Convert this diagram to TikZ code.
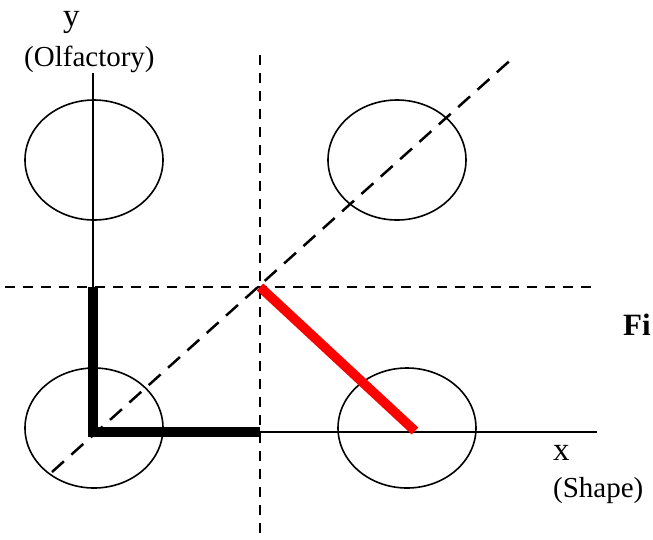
\documentclass[tikz,border=0pt]{standalone}
\usepackage{fontspec}
\setmainfont{Liberation Serif}
\usetikzlibrary{shapes.geometric, positioning}

\begin{document}
\begin{tikzpicture}[
    x=1pt, y=-1pt,
    blob/.style={draw, ellipse, line width=1.6pt, minimum width=138pt, minimum height=120pt, inner sep=0pt},
    axis/.style={line width=1.6pt},
    guide/.style={line width=2.5pt, dash pattern=on 10pt off 8pt},
    diag/.style={line width=2.5pt, dash pattern=on 16pt off 10pt},
    bar/.style={line width=9.5pt, line join=miter},
    lbl/.style={font=\fontsize{29}{31}\selectfont, anchor=base west, inner sep=0pt},
    var/.style={font=\fontsize{33}{35}\selectfont, anchor=base west, inner sep=0pt},
  ]
  \useasboundingbox (0,0) rectangle (653,539);
  % clusters
  \node[blob] (tl) at (94,160) {};
  \node[blob] (tr) at (397,160) {};
  \node[blob] (bl) at (94,428) {};
  \node[blob] (br) at (407,428) {};
  % axes and guides
  \coordinate (o) at (93,432);
  \coordinate (ytop) at (93,73);
  \coordinate (xend) at (597,432);
  \coordinate (c) at (260,287);
  \coordinate (vtop) at (260,55);
  \coordinate (vbot) at (260,537);
  \coordinate (hl) at (5,287);
  \coordinate (hr) at (597,287);
  \coordinate (dlo) at (52,472);
  \coordinate (dhi) at (515,56);
  \coordinate (ycut) at (93,287);
  \coordinate (xcut) at (260,432);
  \coordinate (rend) at (415,431);
  \draw[axis] (ytop) -- (o) -- (xend);
  \draw[guide] (vtop) -- (vbot);
  \draw[guide] (hl) -- (hr);
  \draw[diag] (dlo) -- (dhi);
  \draw[bar] (ycut) -- (o) -- (xcut);
  \draw[bar, red] (c) -- (rend);
  % labels
  \node[var] (ylab) at (63,26) {y};
  \node[lbl] (ytxt) at (24,66) {(Olfactory)};
  \node[var] (xlab) at (553,460) {x};
  \node[lbl] (xtxt) at (553,497) {(Shape)};
  \node[var, font=\fontsize{31}{33}\selectfont\bfseries] (fig) at (623,335) {Fi};
\end{tikzpicture}
\end{document}
